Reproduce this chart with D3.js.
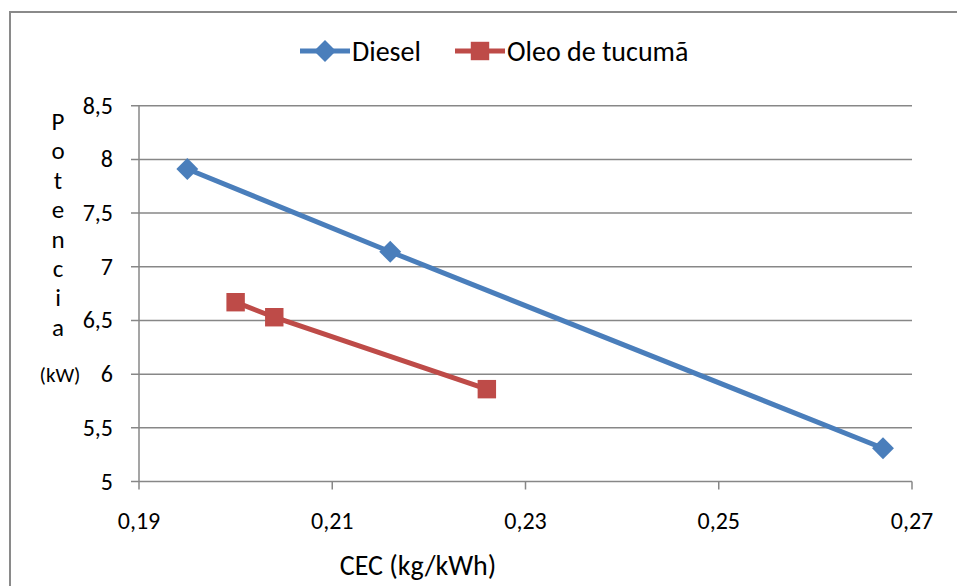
<!DOCTYPE html>
<html>
<head>
<meta charset="utf-8">
<script src="https://cdn.jsdelivr.net/npm/d3@7"></script>
<style>
  body { margin: 0; background: #fff; }
  svg { font-family: Carlito, "Liberation Sans Narrow", "Open Sans", sans-serif; }
</style>
</head>
<body>
<svg width="957" height="586"></svg>
<script>
var seriesNames = ["Diesel", "Oleo de tucumã"];
var seriesColors = ["#4A7EBB", "#BE4B48"];
var dieselX = [0.195, 0.216, 0.267];
var dieselY = [7.91, 7.14, 5.31];
var oleoX = [0.200, 0.204, 0.226];
var oleoY = [6.67, 6.53, 5.86];
var xTicks = [0.19, 0.21, 0.23, 0.25, 0.27];
var yTicks = [5, 5.5, 6, 6.5, 7, 7.5, 8, 8.5];
var yTitleLetters = ["P", "o", "t", "e", "n", "c", "i", "a"];

var svg = d3.select("svg");
var fmt = d => String(d).replace(".", ",");

// outer chart frame (runs off right/bottom)
svg.append("rect")
  .attr("x", 10).attr("y", 12)
  .attr("width", 1000).attr("height", 1000)
  .attr("fill", "none")
  .attr("stroke", "#8a8a8a")
  .attr("stroke-width", 2);

var x = d3.scaleLinear().domain([0.19, 0.27]).range([139, 912]);
var y = d3.scaleLinear().domain([5, 8.5]).range([481.5, 105.7]);

// gridlines
svg.append("g")
  .selectAll("line").data(yTicks).enter()
  .append("line")
    .attr("x1", 131).attr("x2", 912)
    .attr("y1", d => y(d)).attr("y2", d => y(d))
    .attr("stroke", "#878787")
    .attr("stroke-width", 1.5);

// y axis line
svg.append("line")
  .attr("x1", 139).attr("x2", 139)
  .attr("y1", y(8.5)).attr("y2", y(5))
  .attr("stroke", "#878787").attr("stroke-width", 1.5);

// x axis ticks
svg.append("g")
  .selectAll("line").data(xTicks).enter()
  .append("line")
    .attr("x1", d => x(d)).attr("x2", d => x(d))
    .attr("y1", y(5)).attr("y2", y(5) + 8)
    .attr("stroke", "#878787").attr("stroke-width", 1.5);

svg.append("g")
  .selectAll("text").data(yTicks).enter()
  .append("text")
    .attr("x", 113)
    .attr("y", d => y(d) + 8)
    .attr("text-anchor", "end")
    .style("font-size", "24px")
    .text(fmt);

svg.append("g")
  .selectAll("text").data(xTicks).enter()
  .append("text")
    .attr("x", d => x(d))
    .attr("y", 529)
    .attr("text-anchor", "middle")
    .style("font-size", "24px")
    .text(fmt);

// axis titles
svg.append("text")
  .attr("x", 418).attr("y", 575)
  .attr("text-anchor", "middle")
  .style("font-size", "28px")
  .text("CEC (kg/kWh)");

svg.append("g")
  .selectAll("text").data(yTitleLetters).enter()
  .append("text")
    .attr("x", 58)
    .attr("y", (d, i) => 130 + i * 29.4)
    .attr("text-anchor", "middle")
    .style("font-size", "25px")
    .text(d => d);

svg.append("text")
  .attr("x", 60).attr("y", 382)
  .attr("text-anchor", "middle")
  .style("font-size", "21px")
  .text("(kW)");

// series
var series = [
  { name: seriesNames[0], color: seriesColors[0], diamond: true,
    pts: dieselX.map((v, i) => [v, dieselY[i]]) },
  { name: seriesNames[1], color: seriesColors[1], diamond: false,
    pts: oleoX.map((v, i) => [v, oleoY[i]]) }
];

var line = d3.line().x(d => x(d[0])).y(d => y(d[1]));
var marker = s => d3.symbol().type(d3.symbolSquare).size(s.diamond ? 240 : 340)();
var rot = s => s.diamond ? " rotate(45)" : "";

series.forEach(s => {
  svg.append("path")
    .attr("d", line(s.pts))
    .attr("fill", "none")
    .attr("stroke", s.color)
    .attr("stroke-width", 5);
  svg.append("g")
    .selectAll("path").data(s.pts).enter()
    .append("path")
      .attr("transform", d => `translate(${x(d[0])},${y(d[1])})` + rot(s))
      .attr("d", marker(s))
      .attr("fill", s.color);
});

// legend
var legendX = [300, 455];
series.forEach((s, i) => {
  var g = svg.append("g").attr("transform", `translate(${legendX[i]},51)`);
  g.append("line")
    .attr("x1", 0).attr("x2", 50)
    .attr("stroke", s.color).attr("stroke-width", 5);
  g.append("path")
    .attr("transform", "translate(25,0)" + rot(s))
    .attr("d", marker(s))
    .attr("fill", s.color);
  g.append("text")
    .attr("x", 52).attr("y", 10)
    .style("font-size", "28px")
    .text(s.name);
});
</script>
</body>
</html>
